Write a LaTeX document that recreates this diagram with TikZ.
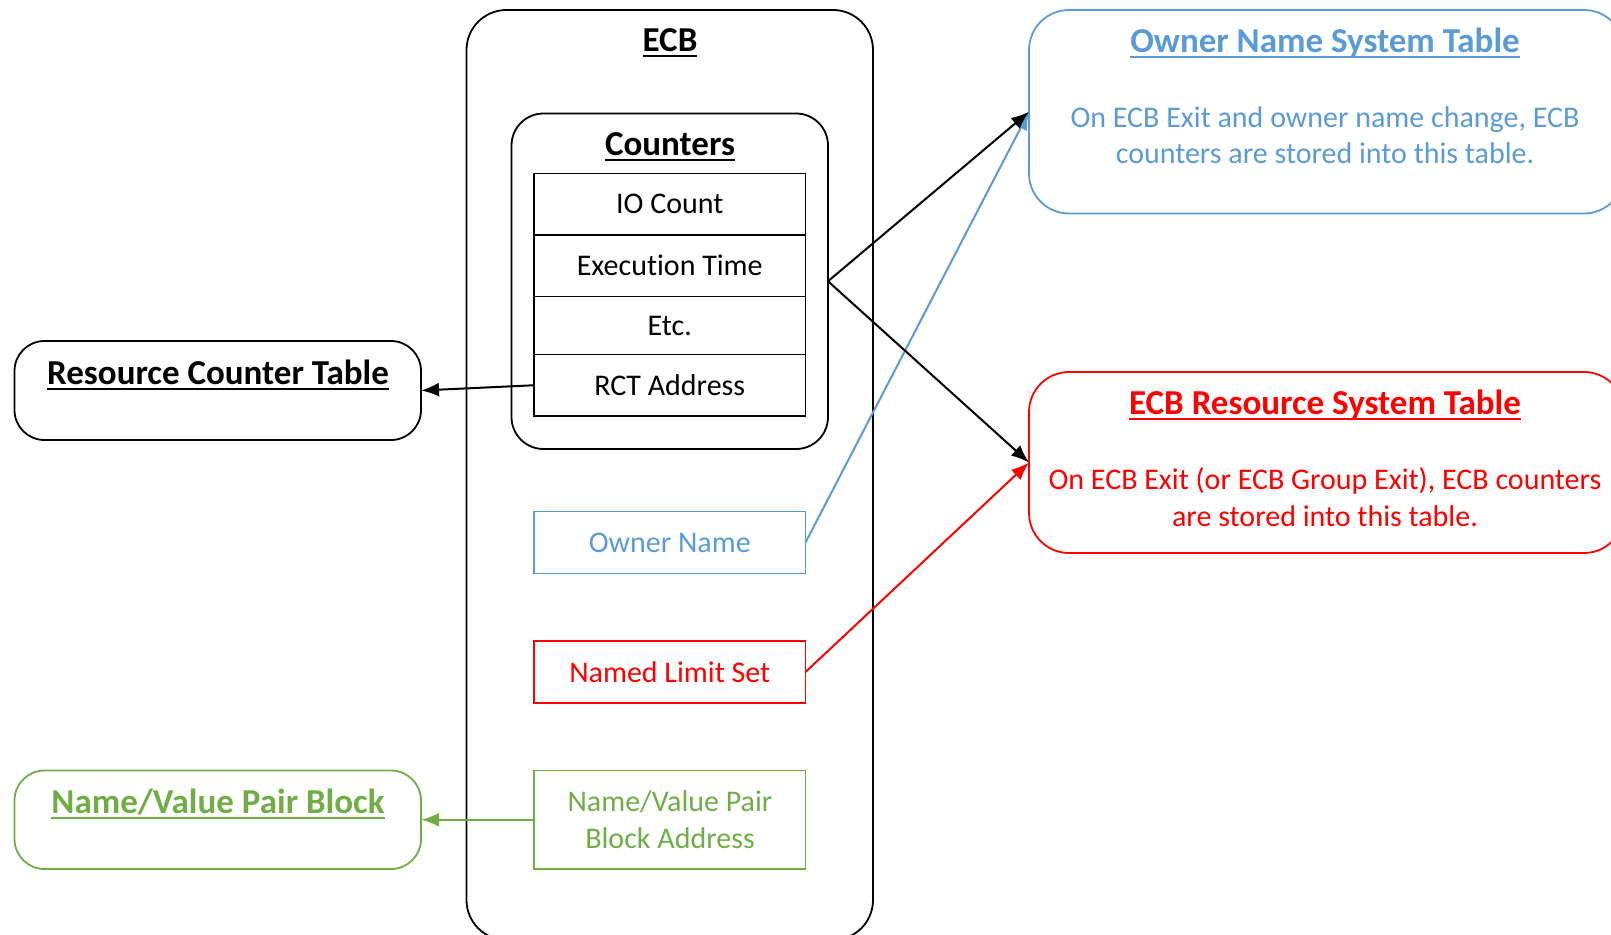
\documentclass[tikz,border=0pt]{standalone}
\usepackage{fontspec}
\setmainfont{Carlito}[Ligatures=NoCommon]
\usetikzlibrary{arrows.meta}
\definecolor{oblue}{HTML}{5B9BD5}
\definecolor{ored}{HTML}{FF0000}
\definecolor{ogreen}{HTML}{70AD47}
\newcommand{\bodyfont}{\fontsize{30}{36.5}\selectfont}
\newcommand{\titlefont}{\fontsize{35}{40}\selectfont\bfseries}
\newcommand{\ulx}[1]{\setbox0\hbox{#1}\rlap{\rule[-5pt]{\wd0}{2pt}}\box0}
\begin{document}
\begin{tikzpicture}[x=1pt,y=-1pt,
  boxline/.style={draw, line width=1.8pt, inner sep=0pt, outer sep=0pt, anchor=north west},
  rbox/.style={boxline, rounded corners=#1},
  txt/.style={inner sep=0pt, align=center, font=\bodyfont},
  ttl/.style={inner sep=0pt, align=center, font=\titlefont},
  arr/.style={line width=2pt, -{Latex[length=18pt,width=14pt]}}
]
\useasboundingbox (0,0) rectangle (1611,934);

% ECB container
\node[rbox=40pt, minimum width=406.5pt, minimum height=930pt] (ecb) at (466.5,10) {};
\node[ttl] (ecbt) at (670,43) {\ulx{ECB}};

% Counters
\node[rbox=32pt, minimum width=316.5pt, minimum height=335.5pt] (counters) at (511.5,113.5) {};
\node[ttl] (countt) at (670,147) {\ulx{Counters}};
\node[boxline, minimum width=271.5pt, minimum height=61.5pt, font=\bodyfont] (io) at (534,173.5) {IO Count};
\node[boxline, minimum width=271.5pt, minimum height=61.5pt, font=\bodyfont] (exec) at (534,235) {Execution Time};
\node[boxline, minimum width=271.5pt, minimum height=58pt, font=\bodyfont] (etc) at (534,296.5) {Etc.};
\node[boxline, minimum width=271.5pt, minimum height=61.5pt, font=\bodyfont] (rctaddr) at (534,354.5) {RCT Address};

% ECB fields
\node[boxline, draw=oblue, text=oblue, minimum width=271.5pt, minimum height=62pt, font=\bodyfont] (owner) at (534,511.5) {Owner Name};
\node[boxline, draw=ored, text=ored, minimum width=271.5pt, minimum height=62pt, font=\bodyfont] (nls) at (534,641) {Named Limit Set};
\node[boxline, draw=ogreen, minimum width=271.5pt, minimum height=98.5pt] (nva) at (534,770.5) {};
\node[txt, text=ogreen] (nvat) at (670,819.5) {Name/Value Pair\\Block Address};

% Left tables
\node[rbox=30pt, minimum width=406.5pt, minimum height=99pt] (rct) at (14.5,341) {};
\node[ttl] (rctt) at (218,375) {\ulx{Resource Counter Table}};
\node[rbox=30pt, draw=ogreen, minimum width=406.5pt, minimum height=98.5pt] (nvb) at (14.5,770.5) {};
\node[ttl, text=ogreen] (nvbt) at (218,804) {\ulx{Name/Value Pair Block}};

% Right tables
\node[rbox=40pt, draw=oblue, minimum width=595pt, minimum height=203.5pt] (onst) at (1029,10) {};
\node[ttl, text=oblue] (onstt) at (1325,43) {\ulx{Owner Name System Table}};
\node[txt, text=oblue] (onstb) at (1325,135) {On ECB Exit and owner name change, ECB\\counters are stored into this table.};
\node[rbox=40pt, draw=ored, minimum width=595pt, minimum height=181pt] (erst) at (1029,372) {};
\node[ttl, text=ored] (erstt) at (1325,405) {\ulx{ECB Resource System Table}};
\node[txt, text=ored] (erstb) at (1325,497) {On ECB Exit (or ECB Group Exit), ECB counters\\are stored into this table.};

% Connectors
\draw[arr] (rctaddr.west) -- (rct.east);
\draw[arr, draw=ogreen, fill=ogreen] (nva.west) -- (nvb.east);
\draw[arr, draw=oblue, fill=oblue] (owner.east) -- (onst.west);
\draw[arr, draw=ored, fill=ored] (nls.east) -- (erst.west);
\draw[arr] (counters.east) -- (onst.west);
\draw[arr] (counters.east) -- (erst.west);
\end{tikzpicture}
\end{document}
